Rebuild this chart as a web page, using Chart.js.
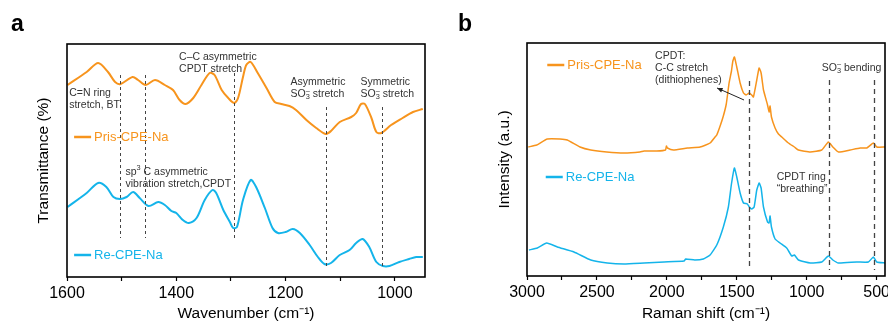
<!DOCTYPE html>
<html>
<head>
<meta charset="utf-8">
<script src="https://cdn.jsdelivr.net/npm/chart.js@4.4.1/dist/chart.umd.min.js"></script>
<style>
  html, body { margin: 0; padding: 0; background: #fff; }
  #wrap { position: relative; width: 888px; height: 323px; overflow: hidden; }
  .panel { position: absolute; top: 0; width: 444px; height: 323px; }
  .tag { position: absolute; top: 12px; font: bold 23px/1 "Liberation Sans", Arial, sans-serif; color: #000; }
</style>
</head>
<body>
<div id="wrap">
  <div class="panel" style="left:0"><canvas id="ftir" width="444" height="323"></canvas></div>
  <div class="panel" style="left:444px"><canvas id="raman" width="444" height="323"></canvas></div>
  <div class="tag" style="left:11px">a</div>
  <div class="tag" style="left:458px">b</div>
</div>
<script>
// FTIR (panel a) - wavenumber vs offset transmittance
const ftirPrisWave = [1599,1564,1543,1525,1512,1502,1480,1470,1456,1439,1421,1406,1394,1383,1369,1354,1339,1330,1317,1305,1294,1287,1278,1272,1264,1251,1235,1220,1208,1193,1181,1162,1144,1127,1117,1101,1080,1071,1062,1055,1043,1034,1025,1007,986,967,949];
const ftirPris = [192,205,214,205,195,193,200,197,192,197,192,187,177,173,179,192,204,202,187,179,174,179,200,212,215,204,189,175,173,171,167,157,149,143,146,155,160,164,173,173,159,145,144,152,159,165,168];
const ftirReWave = [1599,1564,1543,1528,1515,1503,1491,1479,1467,1451,1433,1421,1409,1400,1388,1377,1363,1348,1334,1327,1314,1302,1296,1289,1278,1264,1254,1238,1224,1214,1200,1187,1174,1156,1141,1129,1117,1101,1083,1071,1059,1047,1034,1022,1010,992,974,961,949];
const ftirRe = [70,84,94,90,80,78,80,85,79,71,75,72,66,64,57,54,59,77,87,84,67,55,49,50,77,97,90,69,49,44,45,48,44,32,20,13,14,22,27,34,38,30,15,11,11,15,18,20,20];

// Raman (panel b) - shift vs offset intensity
const ramanPrisShift = [2991,2931,2855,2764,2712,2621,2544,2430,2306,2192,2163,2072,2010,2003,1996,1953,1853,1762,1691,1655,1643,1619,1596,1575,1555,1538,1528,1517,1500,1476,1452,1433,1412,1393,1381,1357,1340,1326,1314,1309,1280,1269,1262,1252,1226,1202,1178,1131,1088,1059,974,892,845,813,773,690,618,570,523,499,439];
const ramanPris = [129,131,137,137,136,129,126,124,123,124,125,125,126,130,128,126,128,129,133,139,141,150,160,172,193,205,215,219,209,193,183,181,183,181,179,196,208,203,191,186,171,164,170,159,148,142,139,133,129,126,124,126,134,129,124,126,128,128,133,129,129];
const ramanReShift = [2986,2926,2859,2783,2664,2544,2426,2306,2163,2020,1877,1865,1800,1739,1691,1643,1596,1560,1538,1517,1500,1476,1452,1424,1410,1393,1376,1357,1340,1326,1309,1280,1269,1262,1252,1226,1190,1143,1107,1088,1059,974,892,845,813,773,642,559,523,499,439];
const ramanRe = [26,28,33,29,24,16,13,12,13,14,15,17,16,17,21,31,49,69,92,108,99,83,73,72,69,67,69,86,93,88,69,54,53,60,49,37,33,28,20,21,16,13,14,20,16,13,14,14,19,14,13];

const ftirTicks = [1000, 1200, 1400, 1600];
const ramanTicks = [500, 1000, 1500, 2000, 2500, 3000];

const ORANGE = '#f7941d';
const CYAN = '#14b4ea';
const FONT = '"Liberation Sans", Arial, sans-serif';
const NOTE = '#333';

function pts(xs, ys) {
  return xs.map((x, i) => ({ x: x, y: ys[i] }));
}

// rich text: parts of [text, mode]; mode '' | 'sub' | 'sup'
function drawRich(ctx, x, y, parts, size, color) {
  let cx = x, subStart = null, subW = 0;
  ctx.fillStyle = color;
  ctx.textBaseline = 'middle';
  ctx.textAlign = 'left';
  parts.forEach(p => {
    const [t, mode] = p;
    if (mode === 'sup' || mode === 'sub') {
      const s = size * 0.7;
      ctx.font = s + 'px ' + FONT;
      const w = ctx.measureText(t).width;
      if (mode === 'sub') {
        ctx.fillText(t, cx, y + size * 0.3);
        subStart = cx; subW = w; cx += w;
      } else {
        let sx = cx;
        if (subStart !== null) { sx = subStart; cx = subStart + Math.max(subW, w); }
        ctx.fillText(t, sx, y - size * 0.35);
        if (subStart === null) cx += w;
        subStart = null;
      }
    } else {
      ctx.font = size + 'px ' + FONT;
      ctx.fillText(t, cx, y);
      cx += ctx.measureText(t).width;
      subStart = null;
    }
  });
}

const decor = {
  id: 'decor',
  afterDatasetsDraw(chart, args, o) {
    const { ctx, chartArea: a } = chart;
    const x = chart.scales.x, y = chart.scales.y;
    ctx.save();
    // dashed guide lines
    ctx.strokeStyle = o.dashColor;
    ctx.lineWidth = o.dashWidth;
    ctx.setLineDash(o.dash);
    o.guides.forEach(g => {
      const px = Math.round(x.getPixelForValue(g[0])) + 0.5;
      ctx.beginPath();
      ctx.moveTo(px, y.getPixelForValue(g[1]));
      ctx.lineTo(px, y.getPixelForValue(g[2]));
      ctx.stroke();
    });
    ctx.setLineDash([]);
    // arrow
    if (o.arrow) {
      const x1 = x.getPixelForValue(o.arrow[0]), y1 = y.getPixelForValue(o.arrow[1]);
      const x2 = x.getPixelForValue(o.arrow[2]), y2 = y.getPixelForValue(o.arrow[3]);
      ctx.strokeStyle = '#222'; ctx.fillStyle = '#222'; ctx.lineWidth = 1;
      ctx.beginPath(); ctx.moveTo(x1, y1); ctx.lineTo(x2, y2); ctx.stroke();
      const ang = Math.atan2(y2 - y1, x2 - x1);
      ctx.beginPath();
      ctx.moveTo(x2, y2);
      ctx.lineTo(x2 - 6 * Math.cos(ang - 0.4), y2 - 6 * Math.sin(ang - 0.4));
      ctx.lineTo(x2 - 6 * Math.cos(ang + 0.4), y2 - 6 * Math.sin(ang + 0.4));
      ctx.closePath(); ctx.fill();
    }
    // notes
    o.notes.forEach(n => {
      const nx = x.getPixelForValue(n.at[0]);
      let ny = y.getPixelForValue(n.at[1]);
      n.lines.forEach(l => {
        drawRich(ctx, nx, ny, l, 10.5, NOTE);
        ny += n.gap || 12.3;
      });
    });
    // legend entries placed next to each curve
    chart.data.datasets.forEach((ds, i) => {
      const pos = o.keys[i];
      const lx = x.getPixelForValue(pos[0]), ly = y.getPixelForValue(pos[1]);
      ctx.strokeStyle = ds.borderColor; ctx.lineWidth = 2.5;
      ctx.beginPath(); ctx.moveTo(lx, ly); ctx.lineTo(lx + 17, ly); ctx.stroke();
      ctx.fillStyle = ds.borderColor;
      ctx.font = '13px ' + FONT;
      ctx.textBaseline = 'middle'; ctx.textAlign = 'left';
      ctx.fillText(ds.label, lx + 20, ly + 0.5);
    });
    // frame
    ctx.strokeStyle = '#000';
    ctx.lineWidth = 1.6;
    ctx.strokeRect(a.left, a.top, a.width, a.height);
    ctx.restore();
  }
};

function xAxis(min, max, step, labels, title, h) {
  return {
    type: 'linear', reverse: true, min: min, max: max,
    afterFit(s) { s.height = h; },
    afterBuildTicks(s) {
      const t = [];
      for (let v = Math.ceil(min / step) * step; v <= max; v += step) t.push({ value: v });
      s.ticks = t;
    },
    border: { display: false },
    grid: { drawOnChartArea: false, drawTicks: true, tickLength: 4, tickColor: '#000', tickWidth: 1.2 },
    ticks: {
      autoSkip: false, maxRotation: 0, padding: 3, color: '#000', font: { family: FONT, size: 16 },
      callback: v => labels.includes(Math.round(v)) ? String(Math.round(v)) : ''
    },
    title: { display: true, text: title, color: '#000', font: { family: FONT, size: 15.5 }, padding: { top: 0, bottom: 0 } }
  };
}

function yAxis(title, w, pad) {
  return {
    min: 0, max: 233,
    afterFit(s) { s.width = w; },
    border: { display: false },
    grid: { display: false },
    ticks: { display: false },
    title: { display: true, text: title, color: '#000', font: { family: FONT, size: 15.5 }, padding: { top: pad, bottom: 0 } }
  };
}

new Chart(document.getElementById('ftir'), {
  type: 'line',
  data: {
    datasets: [
      { label: 'Pris-CPE-Na', data: pts(ftirPrisWave, ftirPris), borderColor: ORANGE, borderWidth: 2, pointRadius: 0, tension: 0.3, fill: false },
      { label: 'Re-CPE-Na', data: pts(ftirReWave, ftirRe), borderColor: CYAN, borderWidth: 2, pointRadius: 0, tension: 0.3, fill: false }
    ]
  },
  options: {
    responsive: false, animation: false, devicePixelRatio: 1,
    layout: { padding: { left: 0, right: 19, top: 44, bottom: 0 } },
    plugins: {
      legend: { display: false }, tooltip: { enabled: false },
      decor: {
        dash: [3, 3], dashColor: '#444', dashWidth: 1,
        guides: [[1503, 202, 39], [1457, 202, 39], [1294, 204, 39], [1127, 170, 9], [1023, 170, 9]],
        notes: [
          { at: [1596, 184], lines: [[['C=N ring', '']], [['stretch, BT', '']]] },
          { at: [1395, 220], lines: [[['C\u2013C asymmetric', '']], [['CPDT stretch', '']]] },
          { at: [1493, 105], lines: [[['sp', ''], ['3', 'sup'], [' C asymmetric', '']], [['vibration stretch,CPDT', '']]] },
          { at: [1191, 195], lines: [[['Asymmetric', '']], [['SO', ''], ['3', 'sub'], ['\u2013', 'sup'], [' stretch', '']]] },
          { at: [1063, 195], lines: [[['Symmetric', '']], [['SO', ''], ['3', 'sub'], ['\u2013', 'sup'], [' stretch', '']]] }
        ],
        keys: [[1587, 140], [1587, 22]]
      }
    },
    scales: {
      x: xAxis(945, 1600, 100, ftirTicks, 'Wavenumber (cm\u207B\u00B9)', 46),
      y: yAxis('Transmittance (%)', 67, 34)
    }
  },
  plugins: [decor]
});

new Chart(document.getElementById('raman'), {
  type: 'line',
  data: {
    datasets: [
      { label: 'Pris-CPE-Na', data: pts(ramanPrisShift, ramanPris), borderColor: ORANGE, borderWidth: 1.5, pointRadius: 0, tension: 0.15, fill: false },
      { label: 'Re-CPE-Na', data: pts(ramanReShift, ramanRe), borderColor: CYAN, borderWidth: 1.5, pointRadius: 0, tension: 0.15, fill: false }
    ]
  },
  options: {
    responsive: false, animation: false, devicePixelRatio: 1,
    layout: { padding: { left: 0, right: 3, top: 43, bottom: 0 } },
    plugins: {
      legend: { display: false }, tooltip: { enabled: false },
      decor: {
        dash: [5, 4], dashColor: '#444', dashWidth: 1.3,
        guides: [[1412, 195, 6], [838, 196, 6], [516, 196, 6]],
        arrow: [1448, 176, 1641, 188],
        notes: [
          { at: [2084, 220], gap: 12, lines: [[['CPDT:', '']], [['C-C stretch', '']], [['(dithiophenes)', '']]] },
          { at: [892, 208], lines: [[['SO', ''], ['3', 'sub'], ['\u2013', 'sup'], [' bending', '']]] },
          { at: [1214, 99], gap: 12.5, lines: [[['CPDT ring', '']], [['\u201Cbreathing\u201D', '']]] }
        ],
        keys: [[2855, 211], [2866, 99]]
      }
    },
    scales: {
      x: xAxis(440, 3000, 250, ramanTicks, 'Raman shift (cm\u207B\u00B9)', 47),
      y: yAxis('Intensity (a.u.)', 83, 51)
    }
  },
  plugins: [decor]
});
</script>
</body>
</html>
